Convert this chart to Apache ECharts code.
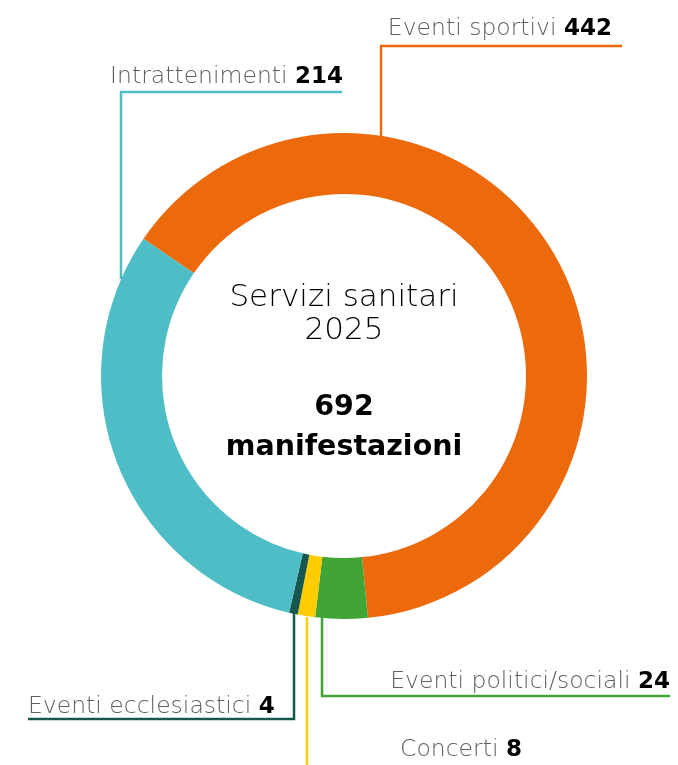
<!DOCTYPE html>
<html><head><meta charset="utf-8">
<script src="https://cdn.jsdelivr.net/npm/echarts@6/dist/echarts.min.js"></script>
<style>html,body{margin:0;padding:0;background:#fff}#c{width:678px;height:765px}</style>
</head><body><div id="c"></div>
<script>
const categories = ['Eventi sportivi', 'Eventi politici/sociali', 'Concerti', 'Eventi ecclesiastici', 'Intrattenimenti'];
const values = [442, 24, 8, 4, 214];
const colors = ['#EC690C', '#40A535', '#FFCC00', '#17574D', '#4FBDC6'];
const centerTitle = ['Servizi sanitari', '2025'];
const centerTotal = ['692', 'manifestazioni'];

const FONT = '"DejaVu Sans", sans-serif';
// label placement: [textX, textY, align, linePoints]
const layouts = [
  {x: 612, y: 29, align: 'right', pts: [[381, 136], [381, 46], [622, 46]]},
  {x: 670, y: 682, align: 'right', pts: [[322, 617], [322, 696], [670, 696]]},
  {x: 400, y: 750, align: 'left', pts: [[307, 617], [307, 760], [307, 770]]},
  {x: 28, y: 707, align: 'left', pts: [[294, 613], [294, 719], [28, 719]]},
  {x: 343, y: 77, align: 'right', pts: [[121, 279], [121, 92], [342, 92]]}
];

const chart = echarts.init(document.getElementById('c'), null, {renderer: 'canvas'});
function ctext(str, y, bold) {
  return {type: 'text', x: 344, y: y, style: {text: str, fontFamily: FONT, fontSize: bold ? 28.5 : 31, fontWeight: bold ? 700 : 300, fill: '#000', align: 'center', verticalAlign: 'middle'}};
}
chart.setOption({
  animation: false,
  series: [{
    type: 'pie',
    center: [344, 376],
    radius: [182, 243],
    startAngle: 145.6,
    clockwise: true,
    avoidLabelOverlap: false,
    emphasis: {disabled: true},
    data: categories.map((c, i) => ({name: c, value: values[i], itemStyle: {color: colors[i]}})),
    label: {
      show: true,
      position: 'outside',
      formatter: '{n|{b} }{v|{c}}',
      rich: {
        n: {fontFamily: FONT, fontSize: 23.5, color: '#5e5e5e', fontWeight: 300},
        v: {fontFamily: FONT, fontSize: 23, color: '#000', fontWeight: 700}
      }
    },
    labelLine: {show: true, lineStyle: {width: 2.5}},
    labelLayout: function (p) {
      const L = layouts[p.dataIndex];
      return {x: L.x, y: L.y, align: L.align, verticalAlign: 'middle', labelLinePoints: L.pts};
    }
  }],
  graphic: [
    ctext(centerTitle[0], 298, false),
    ctext(centerTitle[1], 331, false),
    ctext(centerTotal[0], 408, true),
    ctext(centerTotal[1], 448, true)
  ]
});
</script></body></html>
